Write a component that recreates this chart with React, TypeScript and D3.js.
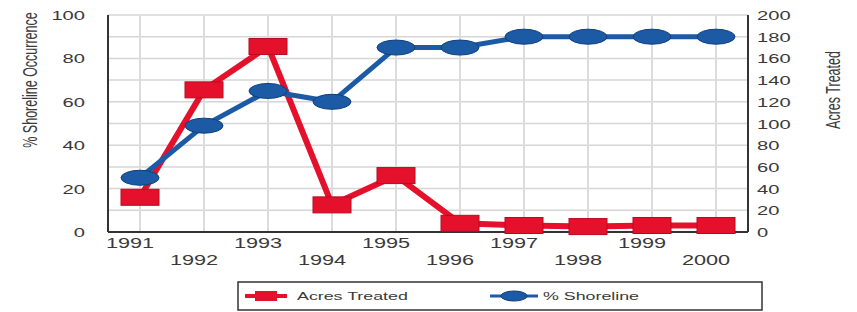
import React from "react";
import * as d3 from "d3";

const years = ["1991", "1992", "1993", "1994", "1995", "1996", "1997", "1998", "1999", "2000"];
const acresTreated = [32, 131, 171, 25, 52, 8, 6, 5, 6, 6];
const shorelinePct = [25, 49, 65, 60, 85, 85, 90, 90, 90, 90];
const leftTicks = [0, 20, 40, 60, 80, 100];
const rightTicks = [0, 20, 40, 60, 80, 100, 120, 140, 160, 180, 200];
const gridVals = [10, 20, 30, 40, 50, 60, 70, 80, 90, 100];

const W = 857, H = 312;
const M = { left: 108, right: 748, top: 15, bottom: 232 };
const S = 1.55;
const RED = "#e5102c";
const BLUE = "#1d5aa6";
const BLUE_DARK = "#0e3f7a";
const TXT = "#3a3a3a";
const FONT = "'Liberation Sans', Arial, sans-serif";

function SText({ x, y, children, anchor = "middle", size = 13, rotate = 0, fill = TXT, sx = S }: any) {
  return (
    <g transform={`translate(${x},${y}) scale(${sx},1) rotate(${rotate})`}>
      <text textAnchor={anchor} fontSize={size} fontFamily={FONT} fill={fill}>{children}</text>
    </g>
  );
}

export default function App() {
  const x = d3.scaleBand<string>().domain(years).range([M.left, M.right]);
  const cx = (d: string) => (x(d) as number) + x.bandwidth() / 2;
  const yL = d3.scaleLinear().domain([0, 100]).range([M.bottom, M.top]);
  const yR = d3.scaleLinear().domain([0, 200]).range([M.bottom, M.top]);

  const redLine = d3.line<number>().x((_, i) => cx(years[i])).y((d) => yR(d));
  const blueLine = d3.line<number>().x((_, i) => cx(years[i])).y((d) => yL(d));

  return (
    <svg width={W} height={H} style={{ position: "absolute", left: 0, top: 0, background: "#fff" }}>
      <rect width={W} height={H} fill="#fff" />
      {/* grid */}
      {gridVals.map((v) => (
        <line key={"h" + v} x1={M.left} x2={M.right} y1={yL(v)} y2={yL(v)} stroke="#d6d6d6" strokeWidth={1.5} />
      ))}
      {years.map((yr) => (
        <line key={"v" + yr} x1={cx(yr)} x2={cx(yr)} y1={M.top} y2={M.bottom} stroke="#dcdcdc" strokeWidth={2} />
      ))}
      {/* axes */}
      <line x1={M.left} x2={M.left} y1={M.top} y2={M.bottom} stroke="#333" strokeWidth={2} />
      <line x1={M.right} x2={M.right} y1={M.top} y2={M.bottom} stroke="#333" strokeWidth={2} />
      <line x1={M.left} x2={M.right} y1={M.bottom} y2={M.bottom} stroke="#333" strokeWidth={2} />
      {leftTicks.map((t) => (
        <SText key={"l" + t} x={85} y={yL(t) + 5} anchor="end">{t}</SText>
      ))}
      {rightTicks.map((t) => (
        <SText key={"r" + t} x={757} y={yR(t) + 5} anchor="start">{t}</SText>
      ))}
      {years.map((yr, i) => (
        <SText key={"x" + yr} x={cx(yr) - 10} y={i % 2 === 0 ? 248 : 265} size={14}>{yr}</SText>
      ))}
      {/* titles */}
      <SText x={37} y={80} rotate={-90} size={12.5}>% Shoreline Occurrence</SText>
      <SText x={840} y={90} rotate={-90} size={12.5}>Acres Treated</SText>
      {/* red series */}
      <path d={redLine(acresTreated) || ""} fill="none" stroke={RED} strokeWidth={6} strokeLinejoin="round" />
      {acresTreated.map((v, i) => (
        <rect key={"rm" + i} x={cx(years[i]) - 19} y={yR(v) - 8} width={38} height={16} fill={RED} stroke="#b80a22" strokeWidth={1} />
      ))}
      {/* blue series */}
      <path d={blueLine(shorelinePct) || ""} fill="none" stroke={BLUE} strokeWidth={5} strokeLinejoin="round" />
      {shorelinePct.map((v, i) => (
        <ellipse key={"bm" + i} cx={cx(years[i])} cy={yL(v)} rx={19} ry={7.5} fill={BLUE} stroke={BLUE_DARK} strokeWidth={1} />
      ))}
      {/* legend */}
      <rect x={238} y={282} width={524} height={28} fill="#fff" stroke="#333" strokeWidth={1.5} />
      <line x1={245} x2={287} y1={296} y2={296} stroke={RED} strokeWidth={4} />
      <rect x={255} y={291} width={22} height={10} fill={RED} />
      <SText x={297} y={300} anchor="start" size={11.5}>Acres Treated</SText>
      <line x1={490} x2={538} y1={296} y2={296} stroke={BLUE} strokeWidth={3} />
      <ellipse cx={514} cy={296} rx={13} ry={5} fill={BLUE} stroke={BLUE_DARK} />
      <SText x={543} y={300} anchor="start" size={11.5}>% Shoreline</SText>
    </svg>
  );
}
